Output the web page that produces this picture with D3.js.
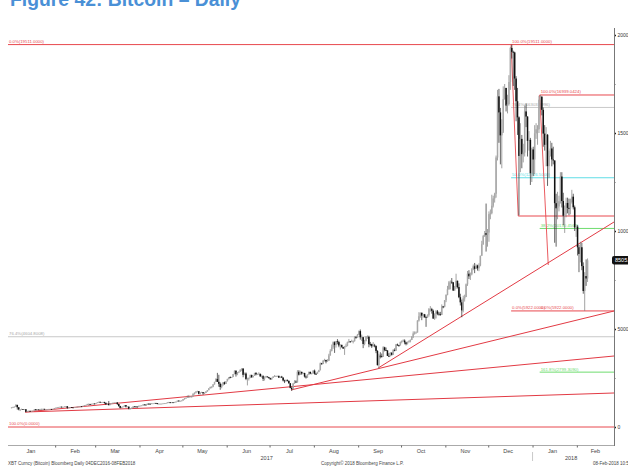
<!DOCTYPE html>
<html><head><meta charset="utf-8">
<script src="https://cdn.jsdelivr.net/npm/d3@7"></script>
<style>body{margin:0;background:#fff;}svg{display:block;}</style>
</head><body>
<svg id="chart" width="628" height="467"></svg>
<script>
// ---------- DATA (XBT Curncy, daily, from 2017-01-01) ----------
const startDate = "2017-01-01";
const opens = [
964,998,1014,1036,1129,1005,895,895,911,902,907,778,804,823,818,822,831,908,864,898,893,919,921,926,891,895,917,919,921,914,921,
966,985,1007,1017,1034,1015,1025,1047,1054,978,996,1010,998,996,1009,1009,1034,1050,1056,1052,1080,1119,1121,1172,1176,1150,1180,1193,
1190,1223,1258,1285,1265,1272,1278,1232,1150,1189,1117,1175,1222,1238,1243,1253,1172,1071,971,1022,1045,1116,1040,1040,937,964,966,1046,1045,1038,1032,
1080,1089,1099,1144,1142,1133,1190,1186,1185,1205,1207,1226,1218,1180,1185,1185,1188,1205,1212,1216,1256,1261,1258,1260,1249,1266,1290,1345,1331,1335,
1348,1421,1452,1491,1520,1535,1555,1555,1706,1756,1808,1827,1692,1761,1777,1718,1740,1808,1877,1972,2044,2053,2175,2302,2443,2305,2202,2039,2156,2280,2197,
2330,2453,2538,2512,2550,2697,2873,2693,2794,2819,2919,2985,2660,2728,2450,2474,2498,2646,2536,2608,2760,2684,2712,2712,2577,2595,2460,2568,2578,2543,
2492,2434,2507,2565,2601,2601,2608,2518,2571,2518,2373,2333,2399,2357,2233,1998,1929,2228,2318,2273,2817,2667,2810,2730,2754,2576,2529,2671,2809,2726,2757,
2875,2718,2710,2804,2895,3252,3213,3378,3419,3342,3381,3650,3884,4073,4325,4181,4376,4331,4160,4193,4087,4001,4100,4151,4334,4371,4352,4382,4382,4579,4565,
4703,4892,4578,4582,4236,4376,4598,4599,4228,4226,4122,4161,4130,3882,3154,3637,3625,3582,4065,3924,3905,3631,3630,3792,3682,3926,3892,4209,4185,4164,
4338,4403,4409,4318,4230,4329,4370,4439,4611,4772,4782,4820,5430,5650,5830,5680,5750,5610,5580,5710,6010,6010,5930,5530,5750,5900,5780,5750,5720,6150,6130,
6470,6740,7030,7380,7410,7380,6960,7140,7460,7140,6620,6360,5950,6560,6630,7280,7820,7690,7790,8040,8200,8070,8240,8100,8240,8740,9320,9740,9890,9810,
9920,10860,10910,11290,11660,11900,13750,16870,16050,14880,15060,16730,17300,16400,16480,17600,19340,19140,19110,17780,16620,15800,13830,14700,13920,14000,16100,15840,14600,14650,12950,
14160,13650,14980,15190,15190,16700,16850,16180,14970,14400,14910,13310,13840,14210,13650,13600,11420,11160,11250,11520,12780,11530,10780,10880,11430,11180,11130,11480,11750,11210,10180,
10220,9170,8830,9170,8210,6940,7700,7580
];
const highs = [
1003,1034,1044,1159,1131,1016,903,937,915,913,910,828,832,831,826,836,910,916,906,900,925,935,931,927,904,919,923,924,923,924,971,
990,1009,1025,1036,1043,1027,1051,1068,1070,1006,1015,1011,1003,1012,1012,1040,1053,1072,1066,1084,1122,1134,1182,1196,1176,1188,1196,1212,
1224,1263,1287,1288,1276,1281,1282,1246,1198,1328,1200,1228,1245,1248,1256,1257,1175,1082,1030,1053,1117,1121,1058,1041,973,1004,1049,1062,1050,1049,1087,
1092,1106,1160,1166,1146,1195,1198,1194,1212,1213,1229,1232,1220,1194,1197,1195,1211,1224,1222,1261,1281,1271,1265,1263,1283,1304,1347,1355,1339,1356,
1422,1476,1493,1609,1636,1573,1576,1706,1761,1824,1850,1830,1767,1799,1777,1765,1826,1885,1980,2057,2076,2187,2306,2493,2761,2665,2274,2209,2286,2317,2338,
2464,2541,2581,2558,2704,2889,2887,2805,2832,2945,2987,2985,2776,2788,2513,2526,2675,2674,2620,2762,2798,2722,2793,2727,2682,2642,2573,2610,2579,2557,
2515,2515,2595,2648,2622,2616,2621,2572,2609,2537,2413,2425,2425,2365,2236,2059,2231,2388,2383,2900,2900,2875,2830,2779,2768,2626,2690,2828,2830,2763,2901,
2932,2762,2826,2918,3290,3273,3422,3480,3430,3462,3735,3970,4208,4369,4372,4388,4484,4400,4225,4143,4072,4136,4254,4356,4492,4375,4455,4417,4625,4646,4748,
4925,4976,4714,4582,4446,4636,4673,4659,4342,4250,4331,4241,4167,3921,3733,3816,3748,4123,4094,4056,3914,3767,3817,3808,3976,4010,4237,4256,4188,4361,
4403,4470,4472,4351,4361,4416,4470,4625,4879,4877,4877,5447,5857,5845,5833,5774,5770,5650,5747,6070,6171,6080,5992,5800,5970,5970,5870,5875,6255,6177,6470,
6770,7200,7450,7480,7600,7400,7200,7820,7470,7330,6800,6500,6700,6750,7320,7960,8000,7880,8100,8290,8370,8300,8280,8350,8740,9500,9800,10000,11400,10100,
11000,11100,11850,11800,11950,13850,17200,17250,16280,15700,17380,17500,17300,16950,17950,19400,19511,19200,19150,17900,17300,15850,15500,14900,14450,16400,16500,15850,15100,14750,14250,
14300,15400,15500,15400,16900,16939,16880,16300,15400,15300,14950,14100,14600,14500,14300,13600,11900,12000,11800,13000,13000,11950,11300,11700,11700,11650,11650,12100,11900,11300,10300,
10300,9300,9450,9400,8400,7900,8550,8600
];
const lows = [
956,988,1009,1024,886,851,814,885,883,898,755,773,791,808,810,820,830,845,859,885,890,850,899,890,883,893,909,915,908,911,919,
962,979,1004,1014,1007,1015,1023,1033,924,965,990,994,987,989,1000,1005,1032,1046,1045,1052,1079,1106,1121,1087,1131,1144,1174,1179,
1181,1220,1251,1236,1252,1262,1185,1148,1129,1100,1113,1168,1220,1223,1240,1122,1032,944,952,1018,1045,997,1024,899,891,940,963,1023,1025,1022,1030,
1071,1075,1098,1128,1120,1131,1156,1167,1177,1198,1207,1206,1155,1172,1178,1180,1187,1200,1199,1213,1237,1219,1240,1235,1241,1265,1290,1309,1311,1321,
1347,1403,1443,1490,1480,1525,1503,1555,1656,1712,1768,1660,1652,1736,1645,1684,1734,1803,1876,1968,1974,2031,2160,2300,2300,2052,1898,1974,2104,2152,2197,
2330,2418,2492,2505,2546,2690,2572,2643,2761,2819,2848,2537,2642,2392,2122,2371,2491,2512,2538,2608,2636,2650,2692,2575,2516,2346,2370,2524,2527,2475,
2410,2401,2508,2561,2562,2583,2501,2494,2512,2327,2242,2320,2322,2205,1976,1843,1931,2200,2256,2270,2627,2661,2663,2715,2523,2469,2509,2668,2693,2679,2718,
2669,2656,2707,2795,2892,3166,3211,3343,3247,3337,3372,3642,3858,3989,3781,4052,4220,4070,3952,4040,3990,3679,4075,4118,4286,4302,4330,4265,4357,4506,4560,
4693,4457,4385,4023,4167,4376,4497,4068,4120,4035,4102,4066,3767,3140,2972,3500,3538,3583,3860,3889,3625,3567,3600,3642,3682,3861,3891,4137,4090,4160,
4269,4370,4219,4166,4213,4308,4318,4436,4539,4715,4770,4830,5379,5574,5450,5576,5565,5110,5574,5630,5887,5785,5530,5464,5538,5706,5681,5679,5730,6060,6103,
6370,6720,7000,7020,7300,6950,6960,7050,7070,6570,6200,5600,5850,6400,6630,7200,7550,7500,7740,8000,7850,8070,7980,7950,8200,8730,9300,9700,8950,9200,
9450,10600,10850,11200,11450,11700,13600,14500,13400,13200,15000,16700,16100,16000,16400,17200,18800,17400,17200,15600,14900,10800,13000,13200,13500,13800,15300,13800,14100,12350,12500,
12800,12900,14700,14400,15000,16200,15900,14300,14100,13300,12300,12700,13800,13300,13400,9400,9200,10600,11000,11400,11200,10300,9900,10700,10900,10800,10850,11400,11100,10000,9700,
8750,7900,8400,8000,6800,5922,7200,7400
];
const closes = [
998,1014,1036,1129,1005,895,895,911,902,907,778,804,823,818,822,831,908,864,898,893,919,921,926,891,895,917,919,921,914,921,966,
985,1007,1017,1034,1015,1025,1047,1054,978,996,1010,998,996,1009,1009,1034,1050,1056,1052,1080,1119,1121,1172,1176,1150,1180,1193,1190,
1223,1258,1285,1265,1272,1278,1232,1150,1189,1117,1175,1222,1238,1243,1253,1172,1071,971,1022,1045,1116,1040,1040,937,964,966,1046,1045,1038,1032,1080,
1089,1099,1144,1142,1133,1190,1186,1185,1205,1207,1226,1218,1180,1185,1185,1188,1205,1212,1216,1256,1261,1258,1260,1249,1266,1290,1345,1331,1335,1348,
1421,1452,1491,1520,1535,1555,1555,1706,1756,1808,1827,1692,1761,1777,1718,1740,1808,1877,1972,2044,2053,2175,2302,2443,2305,2202,2039,2156,2280,2197,2330,
2453,2538,2512,2550,2697,2873,2693,2794,2819,2919,2985,2660,2728,2450,2474,2498,2646,2536,2608,2760,2684,2712,2712,2577,2595,2460,2568,2578,2543,2492,
2434,2507,2565,2601,2601,2608,2518,2571,2518,2373,2333,2399,2357,2233,1998,1929,2228,2318,2273,2817,2667,2810,2730,2754,2576,2529,2671,2809,2726,2757,2875,
2718,2710,2804,2895,3252,3213,3378,3419,3342,3381,3650,3884,4073,4325,4181,4376,4331,4160,4193,4087,4001,4100,4151,4334,4371,4352,4382,4382,4579,4565,4703,
4892,4578,4582,4236,4376,4598,4599,4228,4226,4122,4161,4130,3882,3154,3637,3625,3582,4065,3924,3905,3631,3630,3792,3682,3926,3892,4209,4185,4164,4338,
4403,4409,4318,4230,4329,4370,4439,4611,4772,4782,4820,5430,5650,5830,5680,5750,5610,5580,5710,6010,6010,5930,5530,5750,5900,5780,5750,5720,6150,6130,6470,
6740,7030,7380,7410,7380,6960,7140,7460,7140,6620,6360,5950,6560,6630,7280,7820,7690,7790,8040,8200,8070,8240,8100,8240,8740,9320,9740,9890,9810,9920,
10860,10910,11290,11660,11900,13750,16870,16050,14880,15060,16730,17300,16400,16480,17600,19340,19140,19110,17780,16620,15800,13830,14700,13920,14000,16100,15840,14600,14650,12950,14160,
13650,14980,15190,15190,16700,16850,16180,14970,14400,14910,13310,13840,14210,13650,13600,11420,11160,11250,11520,12780,11530,10780,10880,11430,11180,11130,11480,11750,11210,10180,10220,
9170,8830,9170,8210,6940,7700,7580,8505
];

const monthLabels = ["Jan","Feb","Mar","Apr","May","Jun","Jul","Aug","Sep","Oct","Nov","Dec","Jan","Feb"];
const monthMid = ["2017-01-15","2017-02-15","2017-03-15","2017-04-15","2017-05-15","2017-06-15","2017-07-15","2017-08-15","2017-09-15","2017-10-15","2017-11-15","2017-12-15","2018-01-15","2018-02-14"];
const monthStarts = ["2017-02-01","2017-03-01","2017-04-01","2017-05-01","2017-06-01","2017-07-01","2017-08-01","2017-09-01","2017-10-01","2017-11-01","2017-12-01","2018-01-01","2018-02-01"];
const yearLabels = ["2017","2018"];
const yearMid = ["2017-06-29","2018-01-28"];
const yearBreak = "2018-01-01";

const yTicks = [0,5000,10000,15000,20000];
const yMinor = [2500,7500,12500,17500];

// Fibonacci levels
const levelPct   = ["0.0%","100.0%","76.4%","161.8%","100.0%","76.4%","50.0%","0.0%","38.2%","0.0%"];
const levelValue = [19511.0000,0.0000,4604.8008,2799.3090,16939.0424,16303.9996,12716.5000,10765.0000,10130.4562,5922.0000];
const levelFrom  = ["2016-12-30","2016-12-30","2016-12-30","2018-01-06","2018-01-06","2017-12-17","2017-12-17","2017-12-22","2018-01-06","2017-12-17"];
const levelLabel = [true,true,true,true,true,true,true,false,true,true];
const extraLabelPct   = ["100.0%","0.0%"];
const extraLabelValue = [19511.0000,5922.0000];
const extraLabelDate  = ["2017-12-17","2018-01-06"];

// Fibonacci anchor connectors
const connFromDate = ["2017-12-17","2018-01-06"];
const connFromVal  = [19511,16939];
const connToDate   = ["2017-12-22","2018-01-12"];
const connToVal    = [10765,8265];

// Trend lines
const trendFromDate = ["2017-01-11","2017-01-11","2017-07-16","2017-09-15"];
const trendFromVal  = [765,765,1888,3010];
const trendToDate   = ["2018-02-27","2018-02-27","2018-02-27","2018-02-27"];
const trendToVal    = [1735,3622,5918,10459];

const lastPriceLabel = "8505.53";
const titleText = "Figure 42: Bitcoin \u2013 Daily";
const footLeft = "XBT Curncy (Bitcoin) Bloomberg   Daily 04DEC2016-08FEB2018";
const footMid = "Copyright\u00a9 2018 Bloomberg Finance L.P.";
const footRight = "08-Feb-2018 10:51:26";

// ---------- DRAW ----------
const parse = d3.timeParse("%Y-%m-%d");
const svg = d3.select("#chart");
const FONT = "'Liberation Sans', Arial, sans-serif";

const x = d3.scaleTime().domain([parse("2016-12-30"), parse("2018-02-27")]).range([8, 614]);
const y = d3.scaleLinear().domain([0, 20000]).range([427, 35]);

const t0 = parse(startDate);
const n = Math.min(opens.length, highs.length, lows.length, closes.length);
const data = d3.range(n).map(i => ({
  date: d3.timeDay.offset(t0, i), o: opens[i], h: highs[i], l: lows[i], c: closes[i]
}));

const pctColor = {"0.0%":"#e8484e","100.0%":"#e8484e","76.4%":"#c9c9c9","50.0%":"#5fdde6","38.2%":"#6fdc6f","161.8%":"#6fdc6f"};
const fmt = v => v.toFixed(4);

// Title (cut at top)
svg.append("text").attr("x", 10).attr("y", 5.5)
  .attr("font-family", FONT).attr("font-weight", "bold").attr("font-size", 20)
  .attr("fill", "#4a90d6").attr("textLength", 231).attr("lengthAdjust", "spacingAndGlyphs")
  .text(titleText);

// Horizontal fib levels
const LBL = 4.3;
const gLev = svg.append("g");
levelValue.forEach((v, i) => {
  const col = pctColor[levelPct[i]];
  const x0 = x(parse(levelFrom[i]));
  gLev.append("line").attr("x1", x0).attr("x2", 614).attr("y1", y(v)).attr("y2", y(v))
    .attr("stroke", col).attr("stroke-width", 1);
  if (levelLabel[i]) {
    gLev.append("text").attr("x", x0 + 1).attr("y", y(v) - 1.6)
      .attr("font-family", FONT).attr("font-size", LBL).attr("fill", col === "#c9c9c9" ? "#a8a8a8" : col)
      .text(levelPct[i] + "(" + fmt(v) + ")");
  }
});
extraLabelPct.forEach((p, i) => {
  gLev.append("text").attr("x", x(parse(extraLabelDate[i])) + 1).attr("y", y(extraLabelValue[i]) - 1.6)
    .attr("font-family", FONT).attr("font-size", LBL).attr("fill", pctColor[p])
    .text(p + "(" + fmt(extraLabelValue[i]) + ")");
});

// connectors
connFromDate.forEach((d, i) => {
  svg.append("line")
    .attr("x1", x(parse(d))).attr("y1", y(connFromVal[i]))
    .attr("x2", x(parse(connToDate[i]))).attr("y2", y(connToVal[i]))
    .attr("stroke", "#e8484e").attr("stroke-width", 0.9);
});

// trend lines
trendFromDate.forEach((d, i) => {
  svg.append("line")
    .attr("x1", x(parse(d))).attr("y1", y(trendFromVal[i]))
    .attr("x2", x(parse(trendToDate[i]))).attr("y2", y(trendToVal[i]))
    .attr("stroke", "#e23a44").attr("stroke-width", 1);
});

// candles
const gC = svg.append("g");
data.forEach(d => {
  const cx = x(d3.timeHour.offset(d.date, 12));
  const up = d.c >= d.o;
  const hi = Math.max(d.h, d.o, d.c), lo = Math.min(d.l, d.o, d.c);
  gC.append("line").attr("x1", cx).attr("x2", cx).attr("y1", y(hi)).attr("y2", y(lo))
    .attr("stroke", up ? "#7a7a7a" : "#222").attr("stroke-width", 0.7);
  const yt = y(Math.max(d.o, d.c)), yb = y(Math.min(d.o, d.c));
  gC.append("rect").attr("x", cx - 0.75).attr("width", 1.5)
    .attr("y", yt).attr("height", Math.max(0.8, yb - yt))
    .attr("fill", up ? "#a8a8a8" : "#111");
});

// right axis
const yAxis = d3.axisRight(y).tickValues(yTicks).tickSize(2).tickPadding(1.5)
  .tickFormat(d3.format("d"));
const gy = svg.append("g").attr("transform", "translate(614,0)").call(yAxis);
gy.select(".domain").remove();
gy.selectAll(".tick line").attr("stroke", "#222").attr("stroke-width", 1.4);
gy.selectAll(".tick text").attr("font-family", FONT).attr("font-size", 5).attr("fill", "#333");
const yAxisMinor = d3.axisRight(y).tickValues(yMinor).tickSize(1.5).tickFormat("");
const gy2 = svg.append("g").attr("transform", "translate(614,0)").call(yAxisMinor);
gy2.select(".domain").remove();
gy2.selectAll(".tick line").attr("stroke", "#666");
svg.append("line").attr("x1", 614.5).attr("x2", 614.5).attr("y1", 28).attr("y2", 446)
  .attr("stroke", "#777").attr("stroke-width", 1);

// bottom axis
const xAxis = d3.axisBottom(x).tickValues(monthStarts.map(parse)).tickSize(2).tickFormat("");
const gx = svg.append("g").attr("transform", "translate(0,445.5)").call(xAxis);
gx.select(".domain").attr("stroke", "#aaa").attr("d", "M8,0H614");
gx.selectAll(".tick line").attr("stroke", "#666");
monthLabels.forEach((m, i) => {
  svg.append("text").attr("x", x(parse(monthMid[i]))).attr("y", 452.5)
    .attr("text-anchor", "middle").attr("font-family", FONT).attr("font-size", 5.5).attr("fill", "#444")
    .text(m);
});
yearLabels.forEach((yl, i) => {
  svg.append("text").attr("x", x(parse(yearMid[i]))).attr("y", 459.5)
    .attr("text-anchor", "middle").attr("font-family", FONT).attr("font-size", 5.5).attr("fill", "#444")
    .text(yl);
});
svg.append("line").attr("x1", x(parse(yearBreak))).attr("x2", x(parse(yearBreak)))
  .attr("y1", 452).attr("y2", 461).attr("stroke", "#bbb").attr("stroke-width", 0.8);

// last price tag
const lp = closes[n - 1];
svg.append("rect").attr("x", 612).attr("y", y(lp) - 4.2).attr("width", 18).attr("height", 8.4)
  .attr("rx", 2).attr("fill", "#111");
svg.append("text").attr("x", 615).attr("y", y(lp) + 2)
  .attr("font-family", FONT).attr("font-size", 5.5).attr("fill", "#fff").text(lastPriceLabel);

// footer
svg.append("text").attr("x", 8).attr("y", 465).attr("font-family", FONT).attr("font-size", 4.5)
  .attr("fill", "#444").text(footLeft);
svg.append("text").attr("x", 321).attr("y", 465).attr("font-family", FONT).attr("font-size", 4.5)
  .attr("fill", "#444").text(footMid);
svg.append("text").attr("x", 593).attr("y", 465).attr("font-family", FONT).attr("font-size", 4.5)
  .attr("fill", "#444").text(footRight);
</script>
</body></html>
